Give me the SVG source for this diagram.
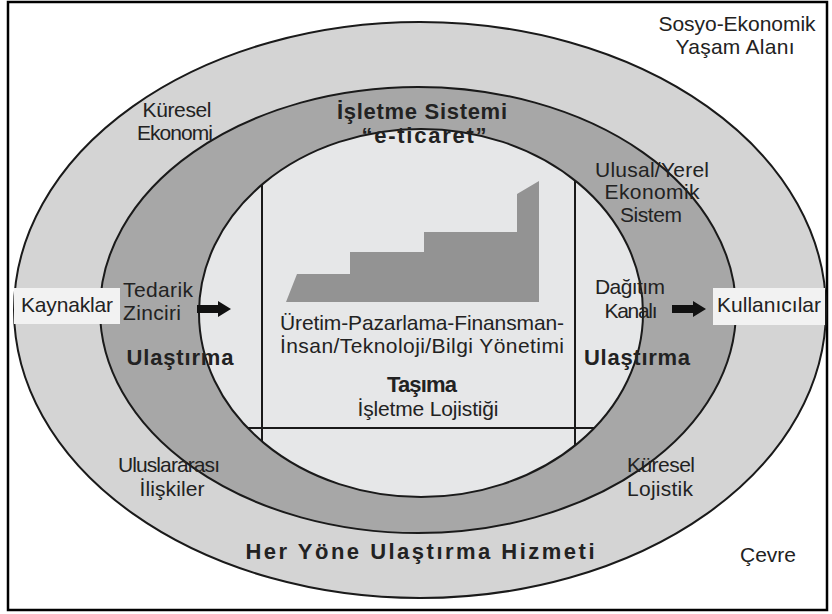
<svg xmlns="http://www.w3.org/2000/svg" width="832" height="614" viewBox="0 0 832 614">
<style>
.t{font-family:"Liberation Sans",Arial,sans-serif;font-size:21px;fill:#222;text-anchor:middle}
.b{font-weight:bold;font-size:22px}
.ln{fill:none;stroke:#1a1a1a;stroke-width:2}
</style>
<defs>
<clipPath id="innerClip"><ellipse cx="421" cy="313" rx="222" ry="184"/></clipPath>
</defs>
<rect x="0" y="0" width="832" height="614" fill="#ffffff"/>
<rect x="8" y="2" width="819" height="608" fill="none" stroke="#000" stroke-width="2.5"/>
<g id="outer-ring">
<ellipse cx="420" cy="310" rx="406" ry="288" fill="#d4d4d4" stroke="#1a1a1a" stroke-width="2"/>
</g>
<g id="middle-ring">
<ellipse cx="418" cy="310" rx="318" ry="223" fill="#a7a7a7" stroke="#1a1a1a" stroke-width="2"/>
</g>
<g id="inner-core">
<ellipse cx="421" cy="313" rx="222" ry="184" fill="#e6e7e8"/>
<g clip-path="url(#innerClip)">
<line class="ln" x1="262" y1="120" x2="262" y2="500"/>
<line class="ln" x1="575" y1="120" x2="575" y2="500"/>
<line class="ln" x1="190" y1="428" x2="650" y2="428"/>
</g>
<ellipse cx="421" cy="313" rx="222" ry="184" class="ln"/>
<polygon points="286,302 539,302 539,181 517,194 517,232 424,232 424,252 350,252 350,274 297,274" fill="#939393"/>
</g>
<g id="kaynaklar">
<rect x="14" y="288" width="106" height="36" fill="#f2f2f2"/>
<text class="t" x="67" y="312" textLength="92" lengthAdjust="spacing">Kaynaklar</text>
</g>
<g id="kullanicilar">
<rect x="713" y="288" width="112" height="37" fill="#f2f2f2"/>
<text class="t" x="769" y="312" textLength="104" lengthAdjust="spacing">Kullanıcılar</text>
</g>
<g id="connectors">
<polygon points="197,305 218,305 218,301 231,309 218,317 218,313 197,313" fill="#111"/>
<polygon points="672,305 693,305 693,301 706,309 693,317 693,313 672,313" fill="#111"/>
</g>
<g id="labels-outer">
<text class="t" x="737" y="31" textLength="157" lengthAdjust="spacing">Sosyo-Ekonomik</text>
<text class="t" x="735" y="54" textLength="119" lengthAdjust="spacing">Yaşam Alanı</text>
<text class="t" x="177" y="117" textLength="69" lengthAdjust="spacing">Küresel</text>
<text class="t" x="175" y="140" textLength="76" lengthAdjust="spacing">Ekonomi</text>
<text class="t" x="169" y="472" textLength="102" lengthAdjust="spacing">Uluslararası</text>
<text class="t" x="172" y="496" textLength="65" lengthAdjust="spacing">İlişkiler</text>
<text class="t" x="661" y="472" textLength="68" lengthAdjust="spacing">Küresel</text>
<text class="t" x="660" y="496" textLength="66" lengthAdjust="spacing">Lojistik</text>
<text class="t b" x="420" y="559" font-size="23" textLength="349" lengthAdjust="spacing">Her Yöne Ulaştırma Hizmeti</text>
<text class="t" x="768" y="562" font-size="20">Çevre</text>
</g>
<g id="labels-middle">
<text class="t b" x="422" y="119" font-size="21" textLength="170" lengthAdjust="spacing">İşletme Sistemi</text>
<text class="t b" x="424" y="143" font-size="21" textLength="125" lengthAdjust="spacing">“e-ticaret”</text>
<text class="t" x="652" y="177" textLength="114" lengthAdjust="spacing">Ulusal/Yerel</text>
<text class="t" x="652" y="199" textLength="95" lengthAdjust="spacing">Ekonomik</text>
<text class="t" x="651" y="222" textLength="62" lengthAdjust="spacing">Sistem</text>
<text class="t" x="158" y="297" textLength="70" lengthAdjust="spacing">Tedarik</text>
<text class="t" x="152" y="320" textLength="58" lengthAdjust="spacing">Zinciri</text>
<text class="t" x="630" y="294" textLength="70" lengthAdjust="spacing">Dağıtım</text>
<text class="t" x="631" y="318" textLength="53" lengthAdjust="spacing">Kanalı</text>
<text class="t b" x="180" y="365" textLength="107" lengthAdjust="spacing">Ulaştırma</text>
<text class="t b" x="637" y="365" textLength="106" lengthAdjust="spacing">Ulaştırma</text>
</g>
<g id="labels-inner">
<text class="t" x="422" y="330" textLength="284" lengthAdjust="spacing">Üretim-Pazarlama-Finansman-</text>
<text class="t" x="422" y="353" textLength="284" lengthAdjust="spacing">İnsan/Teknoloji/Bilgi Yönetimi</text>
<text class="t b" x="422" y="392" textLength="70" lengthAdjust="spacing">Taşıma</text>
<text class="t" x="428" y="416" textLength="141" lengthAdjust="spacing">İşletme Lojistiği</text>
</g>
</svg>
